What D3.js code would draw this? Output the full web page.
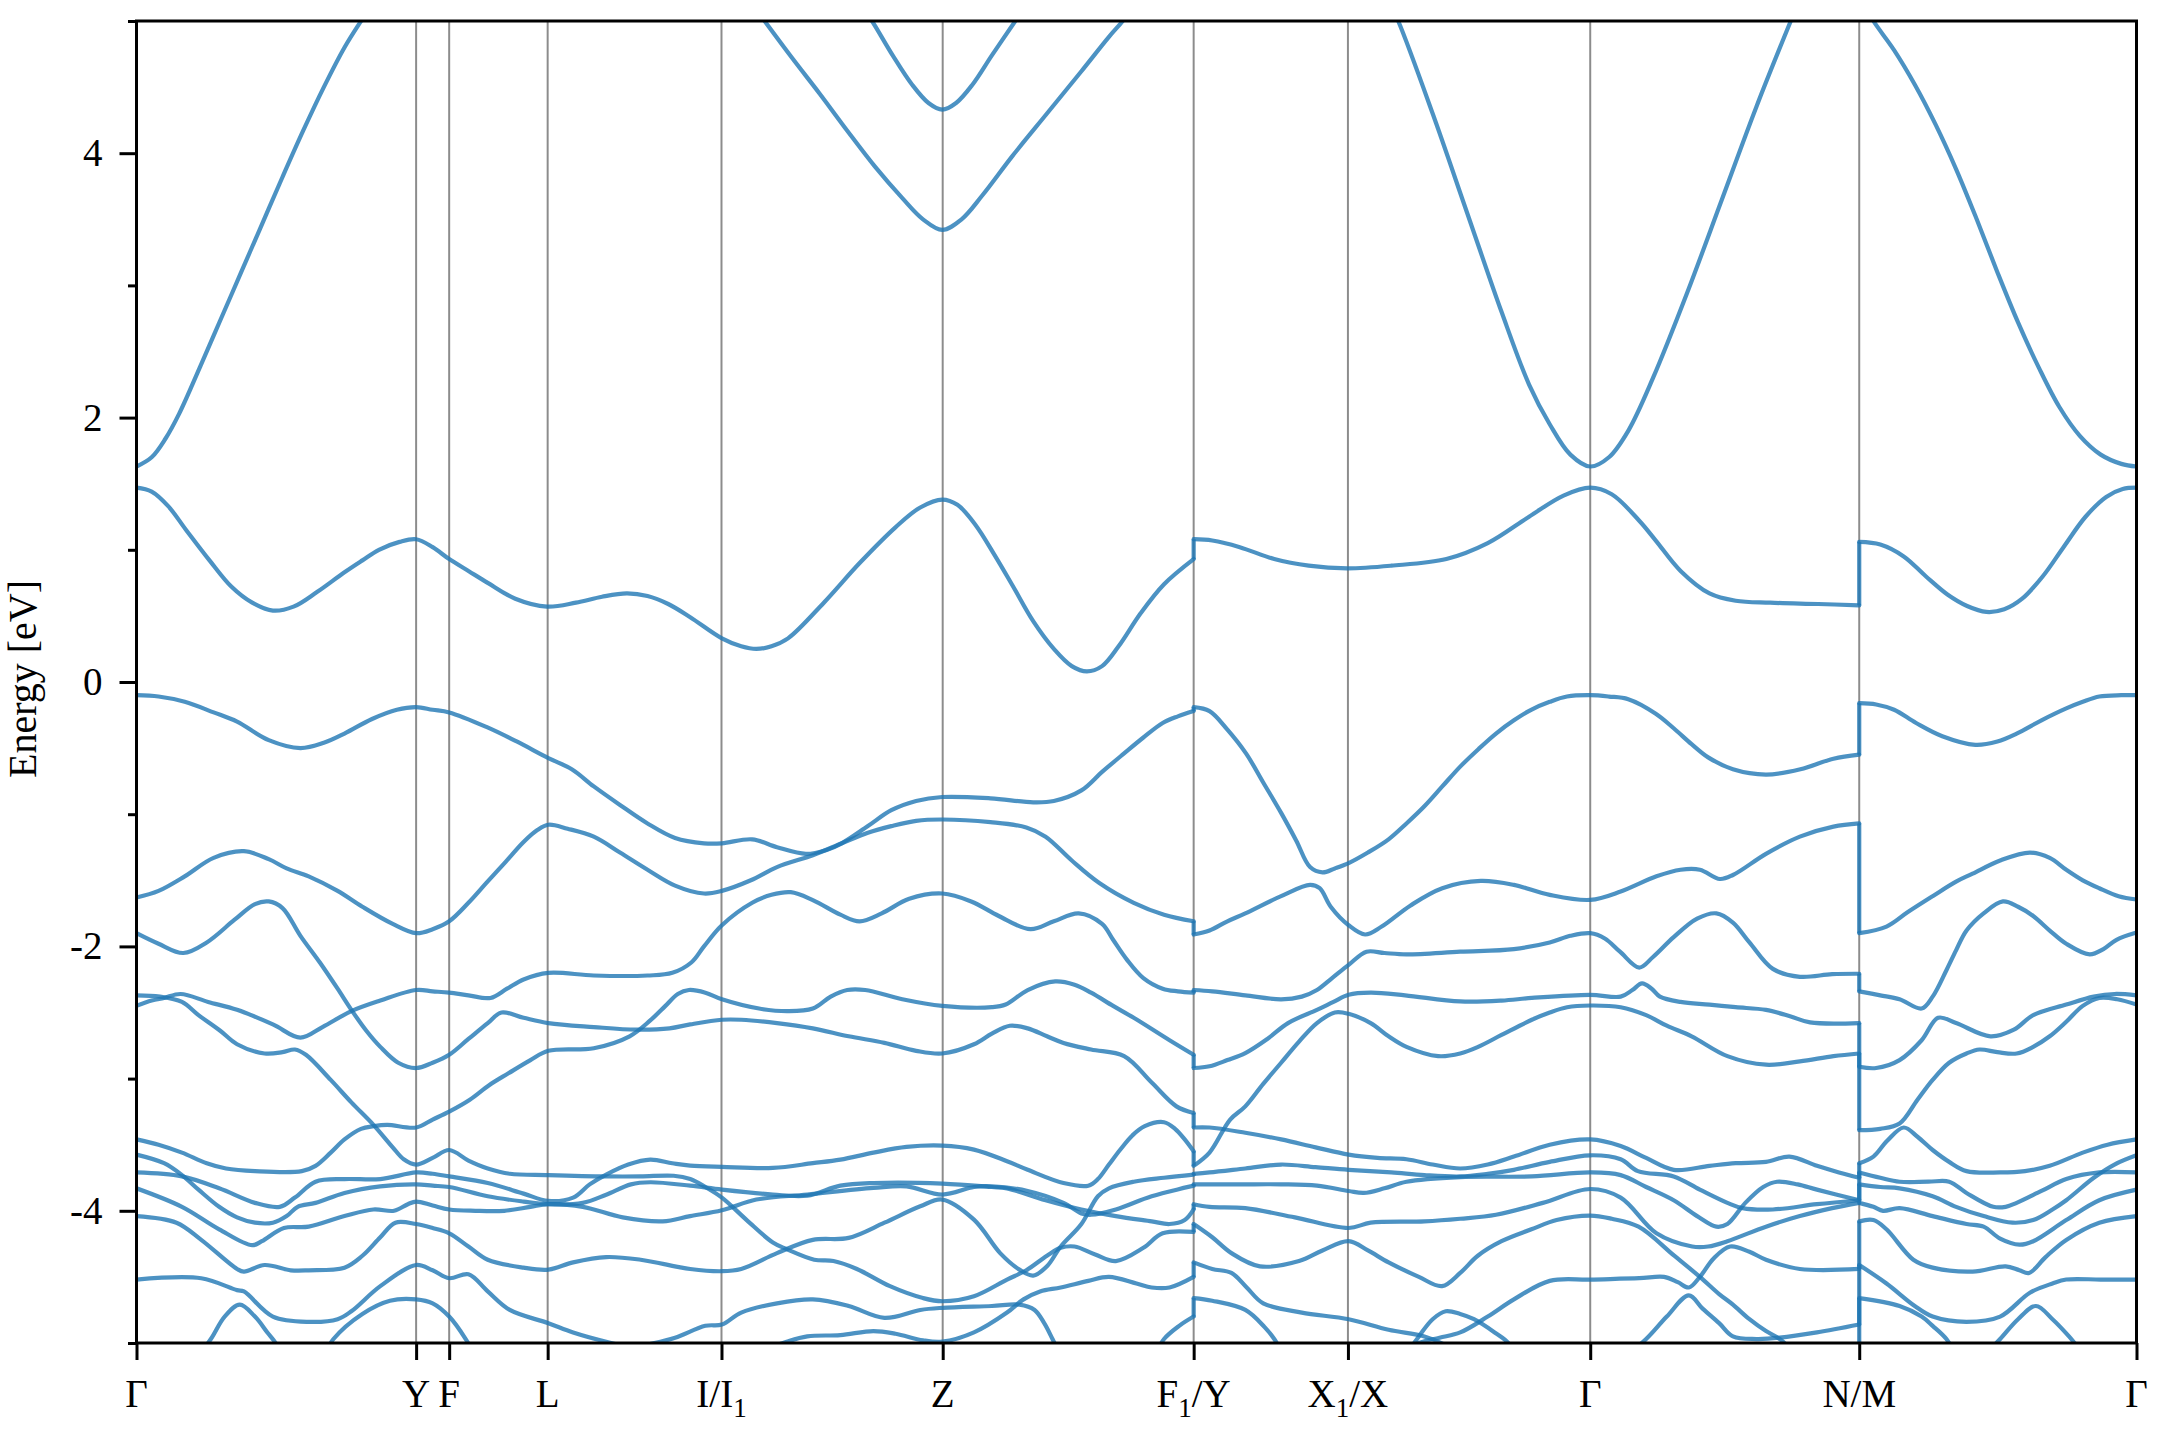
<!DOCTYPE html>
<html><head><meta charset="utf-8">
<script src="https://cdn.jsdelivr.net/npm/d3@7"></script>
<style>body{margin:0;background:#fff}</style>
</head><body>
<svg id="chart" width="2160" height="1440"></svg>
<script>
// ---- k-path (arbitrary path-length units) ----
const kTicks = [99, 302, 326, 397.5, 523.7, 684.3, 866.5, 978.5, 1154.4, 1349.7, 1551];
// label pieces: [text, isSubscript]
const kLabels = [
  [["Γ",0]], [["Y",0]], [["F",0]], [["L",0]], [["I/I",0],["1",1]], [["Z",0]],
  [["F",0],["1",1],["/Y",0]], [["X",0],["1",1],["/X",0]], [["Γ",0]], [["N/M",0]], [["Γ",0]]
];
const yMajor = [-4, -2, 0, 2, 4];
const yMinor = [-5, -3, -1, 1, 3, 5];
const kBreakF1Y = 866.5, kBreakNM = 1349.7;

// ---- bands, Γ → F1 ----
const bandsGammaF1 = [
 [[99,1.63],[110,1.70],[120,1.84],[130,2.03],[145,2.38],[160,2.74],[175,3.10],[190,3.46],[205,3.82],[220,4.17],[235,4.50],[250,4.80],[262,5.00],[275,5.2]],
 [[625,5.12],[633,5.0],[648,4.74],[662,4.52],[674,4.38],[684,4.33],[694,4.38],[706,4.52],[720,4.74],[737,5.0],[745,5.12]],
 [[548,5.1],[555,5.0],[575,4.72],[595,4.45],[615,4.17],[635,3.9],[655,3.66],[670,3.5],[684,3.42],[698,3.5],[713,3.68],[735,3.98],[760,4.3],[785,4.62],[805,4.88],[815,5.0],[822,5.1]],
 [[99,1.47],[110,1.44],[122,1.33],[135,1.15],[152,0.92],[168,0.72],[183,0.60],[198,0.54],[213,0.57],[230,0.68],[250,0.83],[263,0.92],[275,1.00],[290,1.06],[302,1.08],[314,1.02],[326,0.93],[340,0.84],[354,0.75],[374,0.63],[397,0.57],[418,0.60],[437,0.645],[455,0.67],[470,0.65],[485,0.59],[501,0.49],[524,0.33],[538,0.27],[549,0.25],[560,0.27],[572,0.33],[598,0.60],[624,0.90],[650,1.17],[668,1.32],[684,1.38],[695,1.34],[708,1.19],[722,0.96],[735,0.73],[750,0.46],[765,0.25],[778,0.12],[789,0.08],[800,0.12],[812,0.27],[828,0.52],[845,0.74],[866.5,0.93]],
 [[99,-0.10],[115,-0.11],[134,-0.15],[155,-0.23],[172,-0.30],[195,-0.44],[218,-0.50],[235,-0.46],[250,-0.39],[270,-0.28],[288,-0.21],[302,-0.19],[314,-0.21],[326,-0.23],[353,-0.34],[375,-0.45],[398,-0.575],[415,-0.66],[431,-0.79],[450,-0.93],[470,-1.07],[490,-1.18],[511,-1.22],[524,-1.22],[546,-1.19],[564,-1.25],[585,-1.30],[600,-1.27],[611,-1.22],[630,-1.09],[647,-0.97],[665,-0.90],[684,-0.87],[719,-0.88],[750,-0.91],[765,-0.90],[785,-0.82],[800,-0.68],[816,-0.54],[830,-0.42],[844,-0.31],[855,-0.26],[866.5,-0.22]],
 [[99,-1.63],[115,-1.58],[134,-1.47],[155,-1.33],[177,-1.28],[195,-1.34],[208,-1.41],[224,-1.47],[245,-1.58],[263,-1.70],[285,-1.83],[302,-1.90],[314,-1.87],[326,-1.81],[340,-1.67],[353,-1.52],[367,-1.36],[380,-1.21],[390,-1.12],[398,-1.08],[412,-1.11],[431,-1.17],[450,-1.29],[470,-1.42],[490,-1.54],[511,-1.60],[524,-1.58],[545,-1.50],[564,-1.40],[590,-1.31],[611,-1.22],[630,-1.14],[647,-1.09],[665,-1.05],[684,-1.04],[719,-1.06],[745,-1.10],[759,-1.17],[778,-1.35],[798,-1.52],[823,-1.67],[845,-1.76],[866.5,-1.81]],
 [[99,-1.90],[115,-1.98],[133,-2.05],[150,-1.97],[170,-1.80],[185,-1.68],[195,-1.66],[205,-1.71],[218,-1.92],[232,-2.12],[245,-2.32],[255,-2.48],[266,-2.64],[276,-2.76],[289,-2.88],[302,-2.92],[314,-2.88],[326,-2.82],[340,-2.70],[354,-2.58],[364,-2.50],[380,-2.54],[398,-2.58],[431,-2.61],[462,-2.63],[486,-2.62],[501,-2.59],[524,-2.555],[538,-2.555],[564,-2.58],[590,-2.62],[616,-2.68],[642,-2.73],[665,-2.79],[684,-2.81],[707,-2.74],[720,-2.66],[733,-2.60],[746,-2.62],[760,-2.68],[772,-2.73],[792,-2.78],[816,-2.83],[836,-3.03],[854,-3.21],[866.5,-3.26]],
 [[99,-2.45],[110,-2.41],[119,-2.39],[131,-2.36],[151,-2.42],[172,-2.48],[198,-2.59],[218,-2.69],[234,-2.61],[255,-2.49],[276,-2.41],[302,-2.33],[314,-2.34],[326,-2.35],[340,-2.37],[356,-2.39],[368,-2.32],[380,-2.25],[398,-2.20],[431,-2.22],[470,-2.22],[488,-2.20],[502,-2.12],[511,-2.00],[524,-1.84],[546,-1.67],[560,-1.61],[574,-1.59],[590,-1.65],[610,-1.76],[624,-1.81],[640,-1.75],[660,-1.64],[684,-1.60],[705,-1.66],[725,-1.77],[748,-1.87],[765,-1.81],[783,-1.75],[800,-1.83],[808,-1.95],[818,-2.10],[830,-2.24],[844,-2.32],[855,-2.34],[866.5,-2.35]],
 [[99,-2.37],[116,-2.38],[132,-2.42],[144,-2.52],[160,-2.64],[172,-2.74],[192,-2.81],[205,-2.80],[214,-2.78],[222,-2.82],[240,-3.01],[255,-3.18],[271,-3.35],[285,-3.52],[293,-3.61],[302,-3.65],[314,-3.60],[326,-3.54],[340,-3.62],[354,-3.68],[370,-3.72],[398,-3.73],[440,-3.74],[465,-3.74],[489,-3.735],[501,-3.76],[512,-3.82],[524,-3.90],[542,-4.07],[561,-4.24],[571,-4.29],[591,-4.37],[605,-4.38],[622,-4.44],[646,-4.57],[670,-4.66],[684,-4.684],[707,-4.646],[731,-4.52],[745,-4.45],[760,-4.34],[770,-4.28],[780,-4.27],[795,-4.33],[810,-4.38],[830,-4.28],[844,-4.17],[866.5,-4.16]],
 [[99,-3.46],[115,-3.50],[132,-3.56],[150,-3.64],[164,-3.68],[185,-3.70],[219,-3.70],[229,-3.66],[240,-3.56],[250,-3.46],[262,-3.38],[271,-3.36],[281,-3.35],[302,-3.37],[314,-3.31],[326,-3.25],[341,-3.16],[355,-3.05],[369,-2.96],[385,-2.86],[398,-2.79],[431,-2.77],[457,-2.68],[472,-2.56],[483,-2.45],[492,-2.36],[500,-2.33],[512,-2.35],[524,-2.40],[551,-2.47],[572,-2.49],[590,-2.47],[603,-2.38],[615,-2.33],[628,-2.33],[655,-2.40],[684,-2.45],[720,-2.46],[730,-2.44],[746,-2.33],[766,-2.265],[780,-2.29],[792,-2.35],[808,-2.45],[823,-2.54],[849,-2.71],[866.5,-2.82]],
 [[99,-3.71],[132,-3.74],[159,-3.83],[185,-3.94],[203,-3.97],[214,-3.90],[229,-3.78],[250,-3.76],[276,-3.76],[302,-3.71],[314,-3.72],[326,-3.74],[354,-3.79],[380,-3.87],[398,-3.925],[416,-3.90],[428,-3.80],[440,-3.726],[456,-3.65],[472,-3.613],[488,-3.64],[501,-3.658],[524,-3.668],[561,-3.676],[590,-3.64],[610,-3.613],[634,-3.56],[658,-3.517],[684,-3.507],[707,-3.537],[731,-3.625],[746,-3.69],[772,-3.79],[790,-3.81],[797,-3.76],[805,-3.65],[813,-3.54],[822,-3.43],[831,-3.36],[845,-3.33],[853,-3.38],[860,-3.46],[866.5,-3.55]],
 [[99,-3.575],[119,-3.64],[132,-3.73],[144,-3.84],[159,-3.97],[172,-4.05],[185,-4.09],[198,-4.09],[208,-4.04],[216,-3.97],[229,-3.94],[250,-3.865],[276,-3.815],[302,-3.80],[314,-3.81],[326,-3.82],[354,-3.89],[380,-3.93],[398,-3.95],[423,-3.94],[440,-3.878],[458,-3.80],[472,-3.784],[501,-3.81],[524,-3.84],[561,-3.877],[586,-3.885],[610,-3.81],[634,-3.79],[684,-3.794],[720,-3.82],[731,-3.83],[759,-3.92],[785,-3.99],[810,-4.04],[836,-4.08],[849,-4.10],[860,-4.07],[866.5,-3.99]],
 [[99,-3.83],[132,-3.97],[159,-4.14],[183,-4.26],[190,-4.23],[206,-4.13],[224,-4.12],[250,-4.04],[271,-3.99],[286,-4.0],[296,-3.95],[302,-3.93],[314,-3.96],[326,-3.99],[345,-4.00],[366,-4.00],[385,-3.97],[398,-3.95],[423,-3.97],[452,-4.05],[481,-4.08],[501,-4.04],[524,-3.996],[549,-3.915],[586,-3.877],[634,-3.827],[658,-3.815],[684,-3.877],[707,-3.82],[720,-3.815],[746,-3.85],[772,-3.94],[785,-4.02],[792,-4.03],[810,-3.99],[836,-3.89],[866.5,-3.81]],
 [[99,-4.04],[128,-4.09],[146,-4.22],[172,-4.44],[177,-4.46],[192,-4.41],[211,-4.45],[224,-4.45],[250,-4.43],[263,-4.34],[276,-4.2],[287,-4.09],[302,-4.10],[314,-4.13],[326,-4.17],[340,-4.27],[354,-4.37],[380,-4.43],[398,-4.445],[416,-4.39],[440,-4.35],[465,-4.37],[501,-4.44],[524,-4.457],[538,-4.44],[564,-4.32],[590,-4.22],[616,-4.205],[642,-4.09],[668,-3.966],[684,-3.915],[707,-4.067],[726,-4.32],[740,-4.445],[750,-4.49],[760,-4.42],[770,-4.27],[785,-4.10],[797,-3.89],[805,-3.83],[823,-3.78],[845,-3.75],[866.5,-3.726]],
 [[99,-4.52],[146,-4.51],[172,-4.60],[177,-4.61],[198,-4.80],[224,-4.84],[245,-4.82],[255,-4.76],[276,-4.57],[302,-4.41],[314,-4.45],[326,-4.51],[340,-4.48],[354,-4.61],[370,-4.75],[398,-4.85],[416,-4.92],[440,-4.99],[458,-5.03],[475,-5.0],[490,-4.96],[512,-4.87],[524,-4.86],[538,-4.77],[564,-4.70],[590,-4.67],[616,-4.72],[642,-4.81],[668,-4.75],[684,-4.734],[720,-4.72],[740,-4.71],[751,-4.75],[758,-4.85],[764,-4.97],[770,-5.1]],
 [[235,-5.1],[242,-4.97],[263,-4.78],[283,-4.68],[302,-4.67],[314,-4.70],[326,-4.80],[338,-4.97],[345,-5.1]],
 [[140,-5.15],[153,-4.97],[163,-4.80],[174,-4.71],[185,-4.80],[194,-4.92],[200,-5.0],[207,-5.15]],
 [[555,-5.05],[571,-4.99],[586,-4.95],[610,-4.94],[634,-4.91],[650,-4.93],[670,-4.98],[684,-4.99],[707,-4.92],[731,-4.77],[743,-4.67],[755,-4.61],[770,-4.58],[790,-4.53],[805,-4.50],[825,-4.55],[836,-4.58],[849,-4.58],[866.5,-4.50]],
 [[838,-5.1],[845,-4.97],[856,-4.87],[866.5,-4.80]]
];

// ---- bands, Y → N ----
const bandsYN = [
 [[1008,5.15],[1015,5.0],[1040,4.3],[1065,3.55],[1090,2.8],[1110,2.25],[1125,1.95],[1140,1.72],[1154.4,1.63],[1168,1.70],[1182,1.90],[1200,2.3],[1225,2.95],[1250,3.65],[1275,4.35],[1300,5.0],[1306,5.15]],
 [[866.5,1.08],[880,1.07],[900,1.02],[925,0.93],[950,0.88],[978,0.86],[1010,0.88],[1050,0.93],[1080,1.05],[1110,1.25],[1135,1.41],[1154.4,1.47],[1170,1.42],[1190,1.22],[1202,1.07],[1220,0.84],[1241,0.67],[1260,0.615],[1285,0.60],[1320,0.59],[1349.7,0.58]],
 [[866.5,-0.19],[878,-0.22],[891,-0.36],[904.5,-0.54],[917,-0.76],[930,-0.99],[941,-1.20],[951,-1.40],[960,-1.44],[969,-1.41],[979,-1.37],[993,-1.29],[1008,-1.19],[1021,-1.07],[1034,-0.94],[1047,-0.79],[1060,-0.64],[1073,-0.51],[1086,-0.39],[1099,-0.29],[1111.5,-0.21],[1125,-0.15],[1137.5,-0.11],[1154.4,-0.10],[1168,-0.11],[1182,-0.13],[1202,-0.24],[1215,-0.35],[1228,-0.47],[1240,-0.57],[1258,-0.66],[1282,-0.70],[1307,-0.66],[1331,-0.58],[1349.7,-0.55]],
 [[866.5,-1.91],[878,-1.88],[891,-1.81],[904,-1.75],[930,-1.62],[951,-1.535],[958,-1.56],[966,-1.70],[979,-1.84],[991,-1.91],[1003,-1.85],[1024,-1.69],[1047,-1.56],[1075,-1.505],[1099,-1.535],[1125,-1.61],[1154.4,-1.648],[1176.5,-1.585],[1202.5,-1.47],[1220,-1.42],[1234,-1.42],[1248.5,-1.49],[1258,-1.46],[1282,-1.30],[1306.6,-1.17],[1331,-1.094],[1349.7,-1.07]],
 [[866.5,-2.33],[880,-2.34],[904,-2.37],[930,-2.40],[945,-2.38],[956,-2.33],[967,-2.24],[979,-2.14],[992,-2.04],[1005,-2.05],[1021,-2.06],[1060,-2.04],[1099,-2.02],[1125,-1.97],[1140,-1.92],[1154.4,-1.90],[1165,-1.94],[1176,-2.04],[1190,-2.16],[1200,-2.08],[1215,-1.93],[1232,-1.79],[1246,-1.75],[1258,-1.82],[1270,-1.97],[1287,-2.17],[1306.6,-2.23],[1330,-2.21],[1349.7,-2.207]],
 [[866.5,-2.92],[878,-2.907],[891,-2.86],[904,-2.807],[920,-2.70],[935,-2.58],[956,-2.48],[968,-2.42],[979,-2.366],[995,-2.35],[1020,-2.37],[1060,-2.416],[1090,-2.41],[1112,-2.39],[1154.4,-2.366],[1176.5,-2.38],[1185,-2.33],[1192,-2.28],[1199,-2.32],[1205,-2.38],[1220,-2.42],[1241,-2.44],[1260,-2.46],[1282,-2.48],[1300,-2.53],[1314,-2.575],[1349.7,-2.58]],
 [[866.5,-3.66],[878,-3.56],[893,-3.31],[904,-3.21],[917,-3.04],[930,-2.88],[943,-2.72],[956,-2.58],[969,-2.50],[979,-2.51],[995,-2.58],[1008,-2.68],[1021,-2.76],[1044,-2.83],[1060,-2.81],[1073,-2.76],[1090,-2.67],[1112,-2.555],[1125,-2.50],[1137.6,-2.46],[1154.4,-2.447],[1176.5,-2.46],[1195,-2.52],[1210,-2.60],[1228,-2.68],[1254,-2.83],[1282,-2.895],[1306.6,-2.87],[1331,-2.83],[1349.7,-2.81]],
 [[866.5,-3.37],[878,-3.37],[904,-3.41],[930,-3.46],[955,-3.52],[979,-3.575],[1000,-3.60],[1021,-3.61],[1040,-3.65],[1060,-3.68],[1080,-3.65],[1099,-3.59],[1125,-3.50],[1154.4,-3.46],[1176.5,-3.51],[1195,-3.60],[1215,-3.69],[1241,-3.66],[1260,-3.64],[1282,-3.63],[1299,-3.59],[1319,-3.66],[1335,-3.71],[1349.7,-3.75]],
 [[866.5,-3.72],[878,-3.71],[904,-3.68],[930,-3.65],[955,-3.67],[979,-3.69],[1010,-3.71],[1034,-3.73],[1060,-3.74],[1080,-3.72],[1099,-3.69],[1125,-3.63],[1154.4,-3.58],[1176.5,-3.61],[1189,-3.70],[1215,-3.74],[1234,-3.84],[1254,-3.94],[1265,-3.98],[1287,-3.99],[1319,-3.95],[1349.7,-3.92]],
 [[866.5,-3.80],[900,-3.80],[930,-3.80],[956,-3.81],[979,-3.85],[990,-3.865],[1005,-3.83],[1021,-3.78],[1060,-3.745],[1112,-3.74],[1154.4,-3.71],[1176.5,-3.73],[1195,-3.82],[1215,-3.92],[1232,-4.04],[1246,-4.12],[1254,-4.10],[1267,-3.94],[1280,-3.82],[1290,-3.78],[1305,-3.80],[1319,-3.84],[1349.7,-3.92]],
 [[866.5,-3.95],[878,-3.97],[904,-3.98],[940,-4.05],[979,-4.13],[995,-4.09],[1034,-4.08],[1060,-4.06],[1086,-4.03],[1120,-3.94],[1154.4,-3.835],[1176.5,-3.90],[1202.5,-4.17],[1228.4,-4.27],[1240,-4.27],[1254,-4.23],[1282,-4.12],[1306.6,-4.04],[1330,-3.98],[1349.7,-3.94]],
 [[866.5,-4.10],[880,-4.20],[893.9,-4.32],[914.6,-4.42],[943,-4.38],[960,-4.30],[979,-4.23],[993,-4.30],[1008,-4.39],[1030,-4.50],[1046.8,-4.57],[1060,-4.47],[1072.8,-4.34],[1090,-4.23],[1111.7,-4.14],[1130,-4.07],[1154.4,-4.036],[1170,-4.06],[1189.5,-4.12],[1215.4,-4.34],[1234,-4.50],[1248,-4.63],[1258,-4.71],[1270,-4.82],[1282,-4.91],[1292,-4.97],[1300,-5.05]],
 [[866.5,-4.39],[880,-4.44],[893.9,-4.47],[905,-4.58],[917,-4.70],[945,-4.77],[979,-4.82],[1008,-4.90],[1034,-4.95],[1050,-5.02],[1060,-5.1]],
 [[866.5,-4.66],[880,-4.68],[904,-4.75],[918,-4.88],[925,-4.97],[932,-5.1]],
 [[1015,-5.1],[1030,-5.0],[1045,-4.96],[1060,-4.92],[1080,-4.80],[1099,-4.67],[1125,-4.53],[1154.4,-4.52],[1190,-4.51],[1208,-4.50],[1218,-4.54],[1226,-4.58],[1234,-4.50],[1244,-4.36],[1256,-4.27],[1270,-4.31],[1282,-4.37],[1306.6,-4.44],[1349.7,-4.44]],
 [[1020,-5.1],[1030,-4.95],[1040,-4.82],[1049.5,-4.76],[1060,-4.78],[1070,-4.82],[1085,-4.92],[1095,-5.0],[1100,-5.1]],
 [[1180,-5.1],[1195,-4.97],[1210,-4.80],[1226,-4.64],[1236,-4.74],[1248,-4.85],[1258,-4.95],[1275,-4.97],[1292,-4.96],[1319,-4.92],[1349.7,-4.86]]
];

// ---- bands, M → Γ ----
const bandsMGamma = [
 [[1352,5.15],[1360,5.0],[1375,4.78],[1390,4.52],[1405,4.22],[1420,3.88],[1435,3.5],[1450,3.1],[1465,2.72],[1480,2.38],[1495,2.08],[1510,1.86],[1525,1.72],[1540,1.65],[1551,1.63]],
 [[1349.7,1.06],[1365,1.04],[1382,0.95],[1398,0.80],[1414,0.66],[1428,0.575],[1442,0.53],[1455,0.55],[1468,0.63],[1483,0.80],[1498,1.02],[1514,1.25],[1529,1.40],[1541,1.46],[1551,1.47]],
 [[1349.7,-0.16],[1362,-0.17],[1375,-0.21],[1391,-0.31],[1410,-0.41],[1434,-0.475],[1450,-0.45],[1464,-0.39],[1482,-0.29],[1500,-0.20],[1512,-0.15],[1524,-0.11],[1540,-0.10],[1551,-0.10]],
 [[1349.7,-1.90],[1369.5,-1.85],[1385,-1.74],[1403,-1.62],[1420,-1.51],[1432,-1.45],[1452,-1.35],[1473.6,-1.29],[1488,-1.33],[1500,-1.42],[1512,-1.50],[1524,-1.56],[1538,-1.62],[1551,-1.645]],
 [[1349.7,-2.34],[1365,-2.37],[1379,-2.40],[1395,-2.47],[1403,-2.38],[1413,-2.18],[1420,-2.03],[1427.6,-1.88],[1440,-1.75],[1454,-1.66],[1465,-1.70],[1476,-1.77],[1488,-1.88],[1500,-1.98],[1517,-2.06],[1527,-2.02],[1536.5,-1.95],[1551,-1.895]],
 [[1349.7,-2.91],[1362,-2.92],[1379,-2.86],[1395,-2.71],[1407,-2.54],[1420,-2.58],[1445,-2.68],[1462,-2.63],[1476,-2.52],[1500,-2.44],[1520,-2.38],[1535,-2.36],[1551,-2.37]],
 [[1349.7,-3.39],[1365,-3.38],[1379,-3.34],[1392,-3.16],[1403,-3.01],[1415,-2.88],[1427.6,-2.81],[1437,-2.78],[1450,-2.80],[1464,-2.81],[1476,-2.76],[1488,-2.68],[1500,-2.57],[1512,-2.45],[1524,-2.39],[1537,-2.40],[1551,-2.44]],
 [[1349.7,-3.64],[1360,-3.59],[1370,-3.47],[1382,-3.37],[1392,-3.44],[1403,-3.54],[1415,-3.63],[1427.6,-3.70],[1452,-3.71],[1470,-3.70],[1488,-3.66],[1512,-3.56],[1530,-3.50],[1551,-3.46]],
 [[1349.7,-3.71],[1365,-3.75],[1379,-3.78],[1400,-3.78],[1415,-3.78],[1427.6,-3.865],[1447,-3.97],[1456,-3.97],[1464,-3.94],[1482,-3.85],[1500,-3.76],[1524,-3.71],[1551,-3.71]],
 [[1349.7,-3.80],[1365,-3.82],[1379,-3.83],[1403,-3.89],[1420,-3.97],[1440,-4.04],[1461,-4.09],[1476,-4.07],[1490,-3.99],[1500,-3.92],[1520,-3.75],[1535,-3.65],[1551,-3.58]],
 [[1349.7,-3.94],[1360,-3.97],[1367,-4.0],[1379,-3.98],[1403,-4.04],[1427.6,-4.10],[1440,-4.12],[1452,-4.21],[1466,-4.256],[1476,-4.23],[1500,-4.07],[1524,-3.92],[1551,-3.84]],
 [[1349.7,-4.08],[1360,-4.07],[1369.5,-4.14],[1389,-4.37],[1403,-4.43],[1432,-4.46],[1456,-4.42],[1466,-4.45],[1473,-4.47],[1485,-4.35],[1500,-4.22],[1524,-4.09],[1551,-4.04]],
 [[1349.7,-4.41],[1369.5,-4.55],[1390,-4.72],[1403,-4.80],[1427.6,-4.84],[1452,-4.80],[1473.6,-4.62],[1490,-4.55],[1500,-4.52],[1525,-4.52],[1551,-4.52]],
 [[1349.7,-4.66],[1379,-4.72],[1395,-4.80],[1403,-4.87],[1413,-4.97],[1420,-5.1]],
 [[1440,-5.1],[1452,-4.97],[1465,-4.82],[1478,-4.72],[1490,-4.82],[1502,-4.95],[1510,-5.05],[1515,-5.1]]
];

// ---- discontinuities: [E left, E right] ----
const jumpsF1Y = [[0.93,1.08],[-0.22,-0.19],[-1.81,-1.91],[-2.35,-2.33],[-2.82,-2.92],[-3.26,-3.37],[-3.55,-3.66],[-3.726,-3.72],[-3.81,-3.80],[-3.99,-3.95],[-4.16,-4.10],[-4.50,-4.39],[-4.80,-4.66]];
const jumpsNM = [[0.58,1.06],[-0.55,-0.16],[-1.07,-1.90],[-2.207,-2.34],[-2.58,-2.91],[-2.81,-3.39],[-3.75,-3.64],[-3.92,-3.71],[-3.92,-3.80],[-3.94,-3.94],[-4.44,-4.08],[-4.86,-4.41],[-5.1,-4.66]];

// ---- drawing ----
const M = {left:136.5, right:2136.5, top:21, bottom:1343};
const x = d3.scaleLinear().domain([kTicks[0], kTicks[kTicks.length-1]]).range([M.left, M.right]);
const y = d3.scaleLinear().domain([-5, 5]).range([M.bottom, M.top]);
const svg = d3.select("#chart");
const FONT = "'Liberation Serif','Times New Roman',serif";
const BAND = "#1f77b4";
const BW = 4.2;

svg.append("defs").append("clipPath").attr("id","clip")
  .append("rect").attr("x",M.left).attr("y",M.top).attr("width",M.right-M.left).attr("height",M.bottom-M.top);

// high-symmetry vertical lines
svg.append("g").selectAll("line").data(kTicks.slice(1,-1)).join("line")
  .attr("x1",d=>x(d)).attr("x2",d=>x(d)).attr("y1",M.top).attr("y2",M.bottom)
  .attr("stroke","#000").attr("stroke-opacity",0.45).attr("stroke-width",2);

const line = d3.line().x(d=>x(d[0])).y(d=>y(d[1])).curve(d3.curveCatmullRom.alpha(0.5));
const gb = svg.append("g").attr("clip-path","url(#clip)");
gb.selectAll("path.band").data([...bandsGammaF1, ...bandsYN, ...bandsMGamma]).join("path")
  .attr("class","band").attr("d",line).attr("fill","none")
  .attr("stroke",BAND).attr("stroke-opacity",0.8).attr("stroke-width",BW)
  .attr("stroke-linejoin","round").attr("stroke-linecap","round");
const jumps = [...jumpsF1Y.map(j=>[kBreakF1Y,...j]), ...jumpsNM.map(j=>[kBreakNM,...j])];
gb.selectAll("line.jump").data(jumps).join("line").attr("class","jump")
  .attr("x1",d=>x(d[0])).attr("x2",d=>x(d[0])).attr("y1",d=>y(d[1])).attr("y2",d=>y(d[2]))
  .attr("stroke",BAND).attr("stroke-opacity",0.8).attr("stroke-width",BW);

// axes
const ax = svg.append("g").attr("transform",`translate(0,${M.bottom})`)
  .call(d3.axisBottom(x).tickValues(kTicks).tickFormat("").tickSize(17));
const ayMaj = svg.append("g").attr("transform",`translate(${M.left},0)`)
  .call(d3.axisLeft(y).tickValues(yMajor).tickSize(17).tickPadding(17));
const ayMin = svg.append("g").attr("transform",`translate(${M.left},0)`)
  .call(d3.axisLeft(y).tickValues(yMinor).tickSize(8.5).tickFormat(""));
[ax,ayMaj,ayMin].forEach(g=>{
  g.select(".domain").remove();
  g.selectAll(".tick line").attr("stroke","#000").attr("stroke-width",3);
});
ayMaj.selectAll(".tick text").attr("font-family",FONT).attr("font-size",39).attr("fill","#000")
  .text(d=>d<0?"-"+Math.abs(d):String(d));

// x tick labels with subscripts
const xl = svg.append("g").attr("font-family",FONT).attr("font-size",39).attr("fill","#000");
kTicks.forEach((k,i)=>{
  const t = xl.append("text").attr("x",x(k)).attr("y",1407).attr("text-anchor","middle");
  let shifted = false;
  kLabels[i].forEach(([s,sub])=>{
    const ts = t.append("tspan").text(s);
    if (sub) { ts.attr("font-size",27).attr("dy",10); shifted = true; }
    else if (shifted) { ts.attr("dy",-10); shifted = false; }
  });
});

// frame
svg.append("rect").attr("x",M.left).attr("y",M.top).attr("width",M.right-M.left).attr("height",M.bottom-M.top)
  .attr("fill","none").attr("stroke","#000").attr("stroke-width",3);

// y label
svg.append("text").attr("transform",`translate(36,679) rotate(-90)`).attr("text-anchor","middle")
  .attr("font-family",FONT).attr("font-size",40).attr("fill","#000").text("Energy [eV]");
</script>
</body></html>
